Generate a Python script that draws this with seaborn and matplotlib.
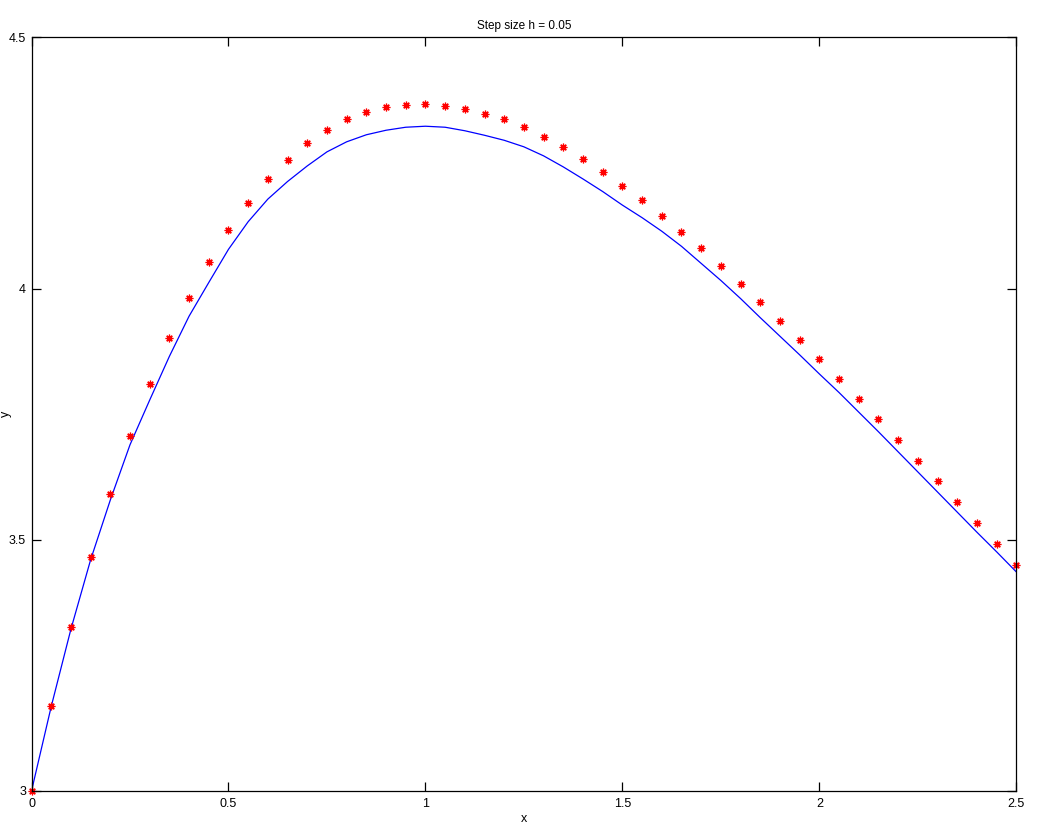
import matplotlib
matplotlib.use("Agg")
import matplotlib.pyplot as plt
import seaborn as sns

# Euler approximation (red asterisks), h = 0.05
x_euler = [0.00, 0.05, 0.10, 0.15, 0.20, 0.25, 0.30, 0.35, 0.40, 0.45,
           0.50, 0.55, 0.60, 0.65, 0.70, 0.75, 0.80, 0.85, 0.90, 0.95,
           1.00, 1.05, 1.10, 1.15, 1.20, 1.25, 1.30, 1.35, 1.40, 1.45,
           1.50, 1.55, 1.60, 1.65, 1.70, 1.75, 1.80, 1.85, 1.90, 1.95,
           2.00, 2.05, 2.10, 2.15, 2.20, 2.25, 2.30, 2.35, 2.40, 2.45, 2.50]
y_euler = [3.000, 3.170, 3.326, 3.466, 3.592, 3.707, 3.810, 3.901, 3.981, 4.053,
           4.116, 4.170, 4.218, 4.255, 4.289, 4.315, 4.337, 4.351, 4.361, 4.366,
           4.368, 4.364, 4.358, 4.348, 4.337, 4.321, 4.302, 4.282, 4.257, 4.232,
           4.204, 4.176, 4.144, 4.112, 4.080, 4.045, 4.009, 3.973, 3.935, 3.898,
           3.860, 3.820, 3.781, 3.740, 3.699, 3.657, 3.617, 3.575, 3.533, 3.491, 3.450]

# Exact solution (blue line)
x_exact = [0.00, 0.05, 0.10, 0.15, 0.20, 0.25, 0.30, 0.35, 0.40, 0.45,
           0.50, 0.55, 0.60, 0.65, 0.70, 0.75, 0.80, 0.85, 0.90, 0.95,
           1.00, 1.05, 1.10, 1.15, 1.20, 1.25, 1.30, 1.35, 1.40, 1.45,
           1.50, 1.55, 1.60, 1.65, 1.70, 1.75, 1.80, 1.85, 1.90, 1.95,
           2.00, 2.05, 2.10, 2.15, 2.20, 2.25, 2.30, 2.35, 2.40, 2.45, 2.50]
y_exact = [3.000, 3.168, 3.322, 3.460, 3.579, 3.689, 3.778, 3.865, 3.945, 4.012,
           4.078, 4.133, 4.178, 4.213, 4.244, 4.272, 4.292, 4.306, 4.315, 4.321,
           4.323, 4.321, 4.314, 4.305, 4.295, 4.282, 4.264, 4.242, 4.218, 4.193,
           4.166, 4.141, 4.114, 4.084, 4.050, 4.016, 3.980, 3.942, 3.905, 3.868,
           3.830, 3.793, 3.754, 3.715, 3.675, 3.635, 3.595, 3.555, 3.515, 3.476, 3.436]

x_ticks = [0, 0.5, 1, 1.5, 2, 2.5]
x_ticklabels = ["0", "0.5", "1", "1.5", "2", "2.5"]
y_ticks = [3, 3.5, 4, 4.5]
y_ticklabels = ["3", "3.5", "4", "4.5"]

sns.set_theme(style="white")
plt.rcParams["font.family"] = ["Liberation Sans", "DejaVu Sans"]

fig = plt.figure(figsize=(10.47, 8.38), dpi=100)
ax = fig.add_axes([0.0301, 0.0561, 0.9406, 0.8994])

sns.lineplot(x=x_exact, y=y_exact, ax=ax, color=(0, 0, 1), linewidth=0.9,
             sort=False, estimator=None)
sns.lineplot(x=x_euler, y=y_euler, ax=ax, color=(1, 0, 0), linestyle="",
             marker=(8, 2, 0), markersize=5.5, markeredgewidth=0.9,
             markeredgecolor=(1, 0, 0), sort=False, estimator=None, clip_on=False)

ax.set_xlim(0, 2.5)
ax.set_ylim(3, 4.5)
ax.set_xticks(x_ticks)
ax.set_xticklabels(x_ticklabels)
ax.set_yticks(y_ticks)
ax.set_yticklabels(y_ticklabels)

for s in ax.spines.values():
    s.set_visible(True)
    s.set_color("black")
    s.set_linewidth(0.9)

ax.tick_params(axis="both", which="both", direction="in", length=6.7, width=0.9,
               color="black", top=True, right=True, bottom=True, left=True,
               labelsize=9, labelcolor="black")
ax.tick_params(axis="x", pad=5)
ax.tick_params(axis="y", pad=4)

ax.set_title("Step size h = 0.05", fontsize=8.5, color="black", pad=6)
ax.set_xlabel("x", fontsize=9, color="black", labelpad=2)
ax.set_ylabel("y", fontsize=9, color="black")
ax.yaxis.set_label_coords(-0.02, 0.5)

fig.savefig("out.png", dpi=100, facecolor="white")
